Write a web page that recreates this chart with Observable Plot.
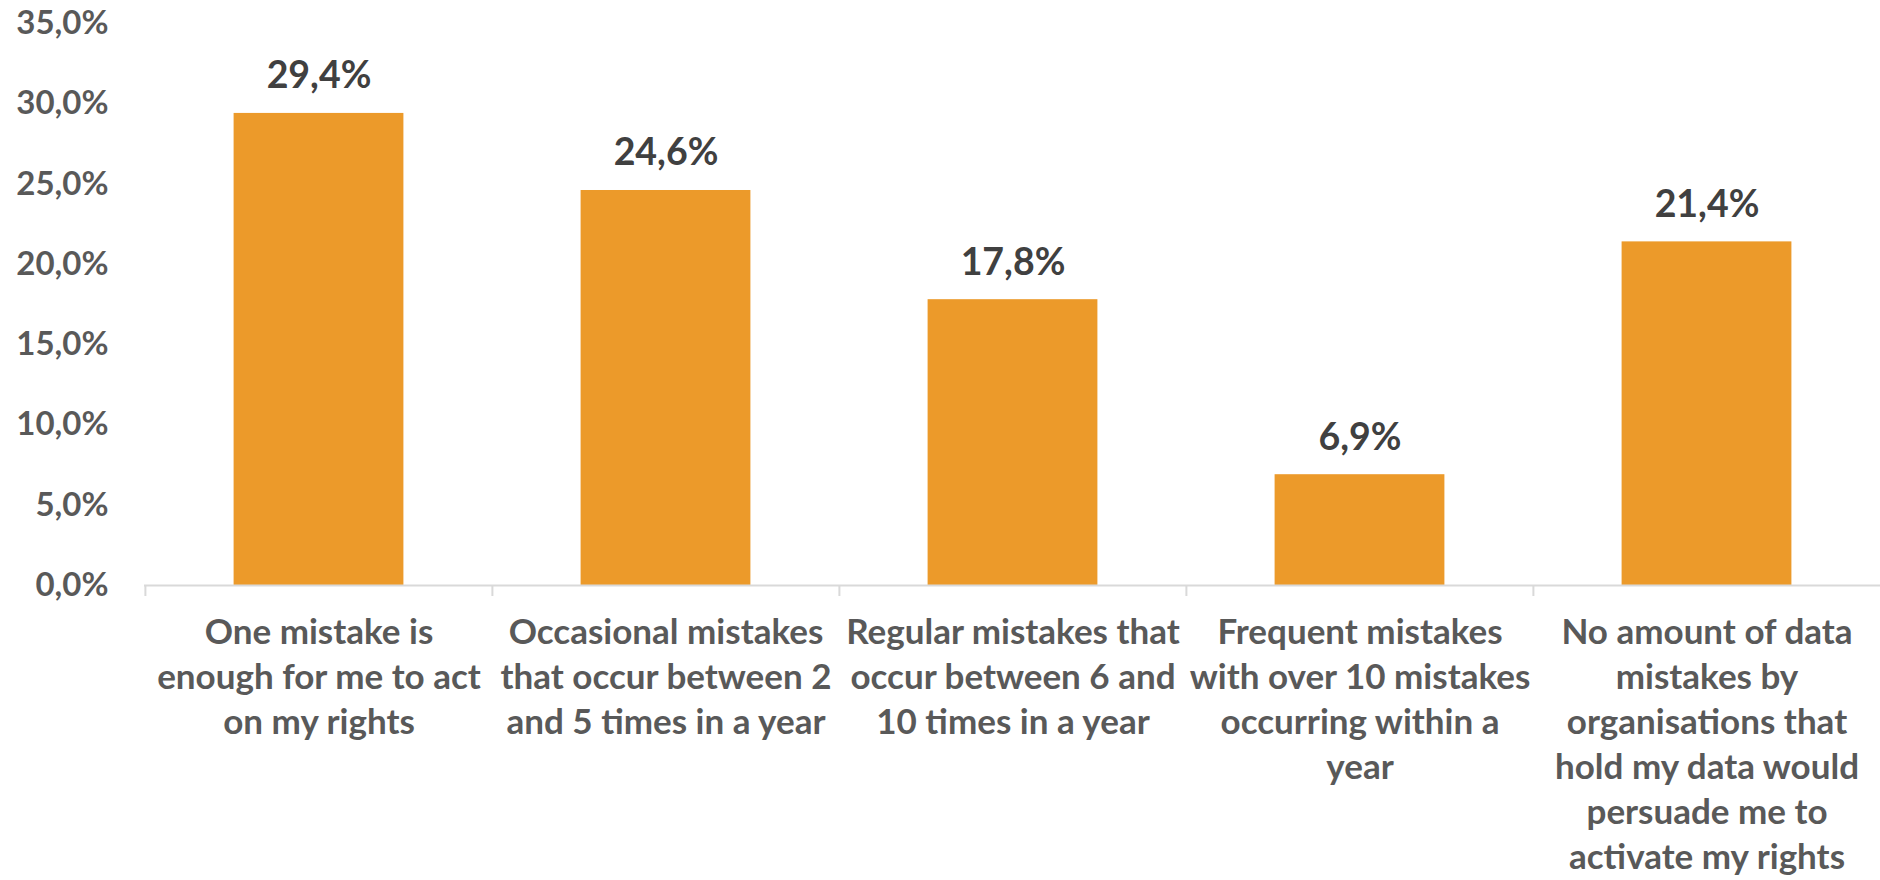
<!DOCTYPE html>
<html><head><meta charset="utf-8">
<script src="https://cdn.jsdelivr.net/npm/d3@7"></script>
<script src="https://cdn.jsdelivr.net/npm/@observablehq/plot@0.6"></script>
<style>body{margin:0;background:#fff}</style>
</head><body><div id="chart"></div>
<script>
const categories = [
  "One mistake is\nenough for me to act\non my rights",
  "Occasional mistakes\nthat occur between 2\nand 5 times in a year",
  "Regular mistakes that\noccur between 6 and\n10 times in a year",
  "Frequent mistakes\nwith over 10 mistakes\noccurring within a\nyear",
  "No amount of data\nmistakes by\norganisations that\nhold my data would\npersuade me to\nactivate my rights"
];
const values = [29.4, 24.6, 17.8, 6.9, 21.4];
const yTicks = [0, 5, 10, 15, 20, 25, 30, 35];

const data = categories.map((c, i) => ({category: c, value: values[i]}));
const fmt = d => d.toFixed(1).replace(".", ",") + "%";
const W = 1880, H = 880, mL = 144, mR = 0, mT = 23, mB = 295;
const step = (W - mL - mR) / categories.length;
const barW = 170;

const chart = Plot.plot({
  width: W, height: H, marginLeft: mL, marginRight: mR, marginTop: mT, marginBottom: mB,
  style: {fontFamily: "Lato, sans-serif", background: "#fff"},
  x: {domain: categories, padding: 0, label: null},
  y: {domain: [0, 35], label: null},
  marks: [
    Plot.barY(data, {x: "category", y: "value", fill: "#EC9A2A", insetLeft: (step - barW) / 2, insetRight: (step - barW) / 2}),
    Plot.ruleY([0], {stroke: "#D9D9D9", strokeWidth: 2}),
    Plot.axisX({tickSize: 11, tickFormat: () => "", dx: -step / 2, stroke: "#D9D9D9", strokeWidth: 2}),
    Plot.axisX({tickSize: 0, tickPadding: 26, fontSize: 35, fontWeight: "bold", fill: "#595959", lineHeight: 1.29, label: null}),
    Plot.axisY({ticks: yTicks, tickSize: 0, tickPadding: 36, tickFormat: fmt, fontSize: 33, fontWeight: "bold", fill: "#595959", label: null}),
    Plot.text(data, {x: "category", y: "value", text: d => fmt(d.value), dy: -25, lineAnchor: "bottom", fontSize: 37.5, fontWeight: "bold", fill: "#404040"})
  ]
});
document.getElementById("chart").appendChild(chart);
</script>
</body></html>
